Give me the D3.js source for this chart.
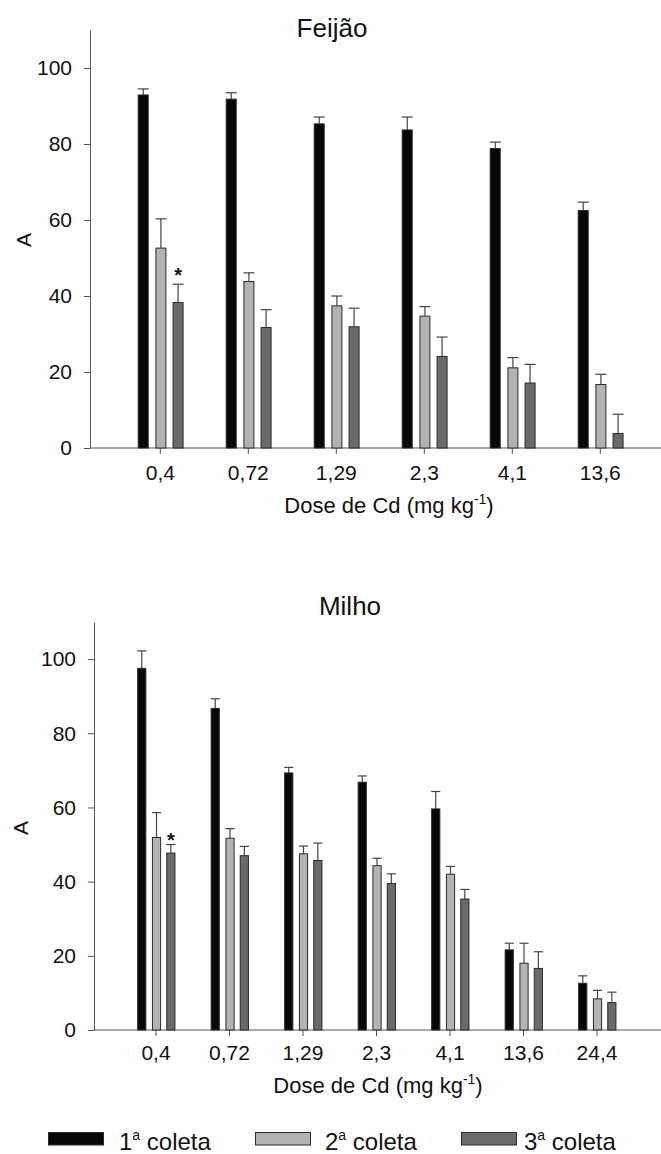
<!DOCTYPE html>
<html><head><meta charset="utf-8">
<script src="https://cdn.jsdelivr.net/npm/d3@7"></script>
<style>body{margin:0;background:#fff}svg{display:block;font-family:"Liberation Sans",Arial,sans-serif}</style>
</head><body>
<script>
// ---- data ----
const yTicks = [0, 20, 40, 60, 80, 100];
const seriesNames = ["1", "2", "3"];
const seriesColors = ["#070707", "#b3b3b3", "#6a6a6a"];

const doseFeijao = ["0,4", "0,72", "1,29", "2,3", "4,1", "13,6"];
const feijao1 = [92.9, 91.8, 85.3, 83.7, 78.8, 62.5];
const feijao1Err = [1.6, 1.7, 1.8, 3.4, 1.7, 2.2];
const feijao2 = [52.6, 43.8, 37.4, 34.7, 21.1, 16.7];
const feijao2Err = [7.7, 2.3, 2.6, 2.5, 2.7, 2.7];
const feijao3 = [38.3, 31.7, 31.9, 24.1, 17.1, 3.8];
const feijao3Err = [4.8, 4.7, 4.9, 5.1, 4.9, 5.1];

const doseMilho = ["0,4", "0,72", "1,29", "2,3", "4,1", "13,6", "24,4"];
const milho1 = [97.5, 86.7, 69.3, 66.8, 59.6, 21.6, 12.6];
const milho1Err = [4.7, 2.6, 1.5, 1.7, 4.7, 1.8, 2.0];
const milho2 = [51.9, 51.7, 47.5, 44.3, 42.0, 18.0, 8.4];
const milho2Err = [6.7, 2.6, 2.1, 2.0, 2.1, 5.4, 2.3];
const milho3 = [47.7, 47.0, 45.7, 39.5, 35.3, 16.6, 7.4];
const milho3Err = [2.3, 2.5, 4.7, 2.6, 2.6, 4.5, 2.8];

// asterisk marks: [category, series index]
const starFeijao = [["0,4", 2]];
const starMilho = [["0,4", 2]];

// ---- drawing ----
const W = 661, H = 1154;
const svg = d3.select("body").append("svg").attr("width", W).attr("height", H);

const panels = [
  {title: "Feijão", titleX: 332, titleY: 37, cats: doseFeijao,
   vals: [feijao1, feijao2, feijao3], errs: [feijao1Err, feijao2Err, feijao3Err], stars: starFeijao,
   axisX: 90, y0: 448, yTop: 30, bandRange: [116.3, 644.3], tickPad: 11, xTitleY: 513, xTitleX: 389,
   yLabelX: 31, yLabelY: 240, starDy: -2},
  {title: "Milho", titleX: 350, titleY: 615, cats: doseMilho,
   vals: [milho1, milho2, milho3], errs: [milho1Err, milho2Err, milho3Err], stars: starMilho,
   axisX: 94, y0: 1030, yTop: 622, bandRange: [119.25, 633.75], tickPad: 9, xTitleY: 1093, xTitleX: 378,
   yLabelX: 28, yLabelY: 828, starDy: 2}
];

const offsets = [-0.194, 0.007, 0.202];
const axisColor = "#555";

panels.forEach(p => {
  const g = svg.append("g");
  const y = d3.scaleLinear().domain([0, 110]).range([p.y0, p.yTop]);
  const x = d3.scaleBand().domain(p.cats).range(p.bandRange).padding(0);
  const step = x.bandwidth();
  const bw = step * 0.125;
  const cx = d => x(d) + step / 2;

  // y axis
  const ya = g.append("g").attr("transform", `translate(${p.axisX},0)`)
    .call(d3.axisLeft(y).tickValues(yTicks).tickSize(6).tickSizeOuter(0).tickPadding(12));
  ya.select(".domain").attr("stroke", axisColor);
  ya.selectAll(".tick line").attr("stroke", axisColor);
  ya.selectAll(".tick text").attr("font-size", 21).attr("fill", "#111")
    .attr("font-family", "Liberation Sans, Arial, sans-serif");

  // x axis
  const xa = g.append("g").attr("transform", `translate(0,${p.y0})`)
    .call(d3.axisBottom(x).tickSize(6).tickSizeOuter(0).tickPadding(p.tickPad));
  xa.select(".domain").remove();
  xa.selectAll(".tick line").attr("stroke", axisColor);
  xa.selectAll(".tick text").attr("font-size", 21).attr("fill", "#111")
    .attr("font-family", "Liberation Sans, Arial, sans-serif");
  g.append("line").attr("x1", p.axisX).attr("x2", W).attr("y1", p.y0).attr("y2", p.y0)
    .attr("stroke", axisColor).attr("stroke-width", 1);

  // bars + error bars
  p.vals.forEach((arr, si) => {
    const data = p.cats.map((c, i) => ({c, v: arr[i], e: p.errs[si][i]}));
    const bx = d => cx(d.c) + offsets[si] * step - bw / 2;
    g.selectAll(null).data(data).enter().append("line")
      .attr("x1", d => bx(d) + bw / 2).attr("x2", d => bx(d) + bw / 2)
      .attr("y1", d => y(d.v)).attr("y2", d => y(d.v + d.e))
      .attr("stroke", "#444").attr("stroke-width", 1.2);
    g.selectAll(null).data(data).enter().append("line")
      .attr("x1", d => bx(d)).attr("x2", d => bx(d) + bw)
      .attr("y1", d => y(d.v + d.e)).attr("y2", d => y(d.v + d.e))
      .attr("stroke", "#444").attr("stroke-width", 1.2);
    g.selectAll(null).data(data).enter().append("rect")
      .attr("x", d => bx(d) + 0.5).attr("width", bw - 1)
      .attr("y", d => y(d.v)).attr("height", d => y(0) - y(d.v))
      .attr("fill", seriesColors[si]).attr("stroke", "#2a2a2a").attr("stroke-width", 1);
  });

  // asterisks
  p.stars.forEach(([c, si]) => {
    const i = p.cats.indexOf(c);
    const top = y(p.vals[si][i] + p.errs[si][i]);
    g.append("text").attr("x", cx(c) + offsets[si] * step).attr("y", top + p.starDy)
      .attr("text-anchor", "middle").attr("font-size", 20).attr("font-weight", "bold")
      .attr("fill", "#111").text("*");
  });

  // titles
  g.append("text").attr("x", p.titleX).attr("y", p.titleY).attr("text-anchor", "middle")
    .attr("font-size", 26).attr("fill", "#111").text(p.title);
  const xt = g.append("text").attr("x", p.xTitleX).attr("y", p.xTitleY).attr("text-anchor", "middle")
    .attr("font-size", 22).attr("fill", "#111");
  xt.append("tspan").text("Dose de Cd (mg kg");
  xt.append("tspan").attr("font-size", 14).attr("dy", -9).text("-1");
  xt.append("tspan").attr("dy", 9).text(")");
  g.append("text").attr("transform", `translate(${p.yLabelX},${p.yLabelY}) rotate(-90)`)
    .attr("text-anchor", "middle").attr("font-size", 21).attr("fill", "#111").text("A");
});

// legend
const legendX = [48, 255, 461];
const legendTextX = [119, 325, 524];
seriesNames.forEach((n, i) => {
  svg.append("rect").attr("x", legendX[i] + 0.5).attr("y", 1132.5).attr("width", 55).attr("height", 12.5)
    .attr("fill", seriesColors[i]).attr("stroke", "#2a2a2a").attr("stroke-width", 1);
  const t = svg.append("text").attr("x", legendTextX[i]).attr("y", 1150).attr("font-size", 24).attr("fill", "#111");
  t.append("tspan").text(n);
  t.append("tspan").attr("font-size", 14).attr("dy", -10).text("a");
  t.append("tspan").attr("dy", 10).text(" coleta");
});
</script>
</body></html>
